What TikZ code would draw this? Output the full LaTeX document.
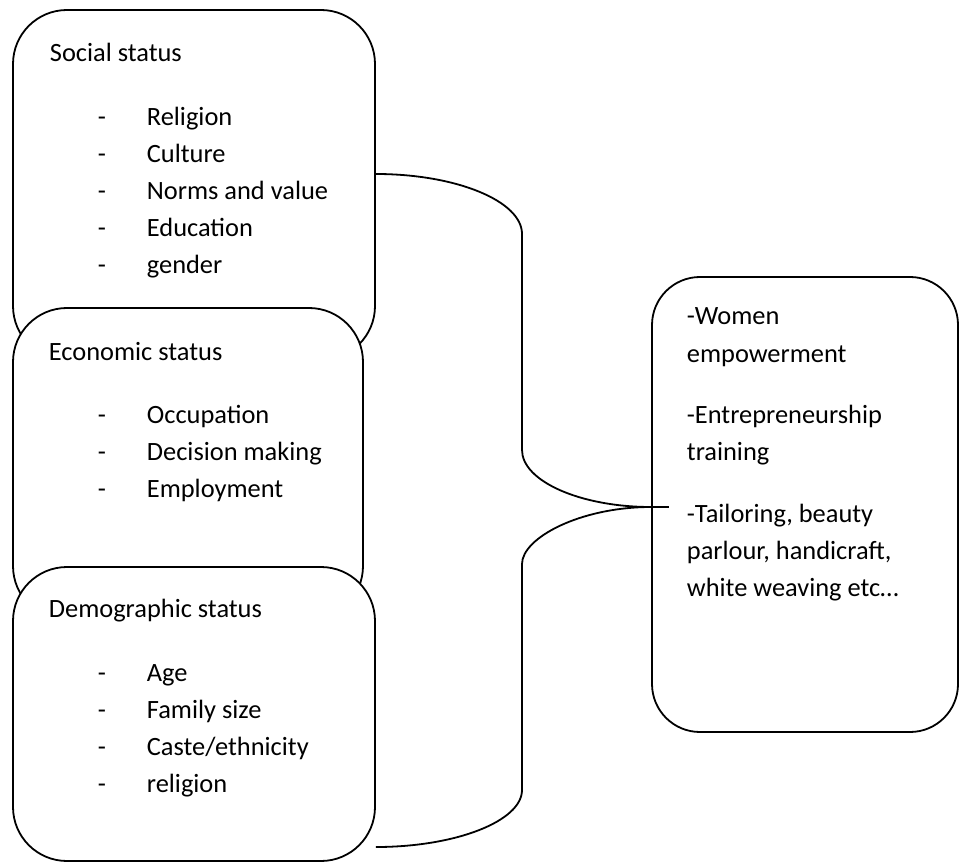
\documentclass[tikz,border=0pt]{standalone}
\usepackage{fontspec}
\setmainfont{Carlito}
\usetikzlibrary{calc}

\begin{document}
\begin{tikzpicture}[x=0.5pt, y=-0.5pt, line width=0.9pt,
	statusbox/.style={draw, fill=white, rounded corners=27pt, inner sep=0pt},
	label/.style={anchor=base west, inner sep=0pt, font=\fontsize{13.2}{16}\selectfont}]
		
		\useasboundingbox (0,0) rectangle (961,865);
		
		%variables
		\def\dashx{97};
		\def\itemx{146};
		
		%status boxes, each one drawn over the one above
		\node [statusbox, minimum width=181pt, minimum height=175pt] (social) at (194,185) {};
		\node [statusbox, minimum width=175pt, minimum height=156pt] (economic) at (188,464) {};
		\node [statusbox, minimum width=181pt, minimum height=147pt] (demographic) at (194,714) {};
		
		%outcome box
		\node [statusbox, rounded corners=24pt, minimum width=153pt, minimum height=227.5pt] (outcome) at (805,504.5) {};
		
		%social status
		\node [label] (social-title) at (49,62) {Social status};
		\node [label] (social-d1) at (\dashx,126) {-};
		\node [label] (social-1) at (\itemx,126) {Religion};
		\node [label] (social-d2) at (\dashx,163) {-};
		\node [label] (social-2) at (\itemx,163) {Culture};
		\node [label] (social-d3) at (\dashx,200) {-};
		\node [label] (social-3) at (\itemx,200) {Norms and value};
		\node [label] (social-d4) at (\dashx,237) {-};
		\node [label] (social-4) at (\itemx,237) {Education};
		\node [label] (social-d5) at (\dashx,274) {-};
		\node [label] (social-5) at (\itemx,274) {gender};
		
		%economic status
		\node [label] (economic-title) at (48,360) {Economic status};
		\node [label] (economic-d1) at (\dashx,423) {-};
		\node [label] (economic-1) at (\itemx,423) {Occupation};
		\node [label] (economic-d2) at (\dashx,460) {-};
		\node [label] (economic-2) at (\itemx,460) {Decision making};
		\node [label] (economic-d3) at (\dashx,497) {-};
		\node [label] (economic-3) at (\itemx,497) {Employment};
		
		%demographic status
		\node [label] (demographic-title) at (48,617) {Demographic status};
		\node [label] (demographic-d1) at (\dashx,681) {-};
		\node [label] (demographic-1) at (\itemx,681) {Age};
		\node [label] (demographic-d2) at (\dashx,718) {-};
		\node [label] (demographic-2) at (\itemx,718) {Family size};
		\node [label] (demographic-d3) at (\dashx,755) {-};
		\node [label] (demographic-3) at (\itemx,755) {Caste/ethnicity};
		\node [label] (demographic-d4) at (\dashx,792) {-};
		\node [label] (demographic-4) at (\itemx,792) {religion};
		
		%outcomes
		\node [label] (outcome-1) at (686,325) {-Women};
		\node [label] (outcome-1b) at (686,362) {empowerment};
		\node [label] (outcome-2) at (686,423) {-Entrepreneurship};
		\node [label] (outcome-2b) at (686,460) {training};
		\node [label] (outcome-3) at (686,522) {-Tailoring, beauty};
		\node [label] (outcome-3b) at (686,559) {parlour, handicraft,};
		\node [label] (outcome-3c) at (686,596) {white weaving etc…};
		
		%brace
		\coordinate (upper) at (social.east |- 0,174);
		\coordinate (tip) at (outcome.west |- 0,507);
		\coordinate (lower) at (demographic.east |- 0,847);
		
		\draw (upper) .. controls (456,174) and (522,201) .. (522,234) -- (522,450)
			.. controls (522,481) and (580,507) .. (tip)
			.. controls (580,507) and (522,538) .. (522,564) -- (522,790)
			.. controls (522,821) and (456,847) .. (lower);
		\draw (tip) -- ++(18,0);
	\end{tikzpicture}
\end{document}
